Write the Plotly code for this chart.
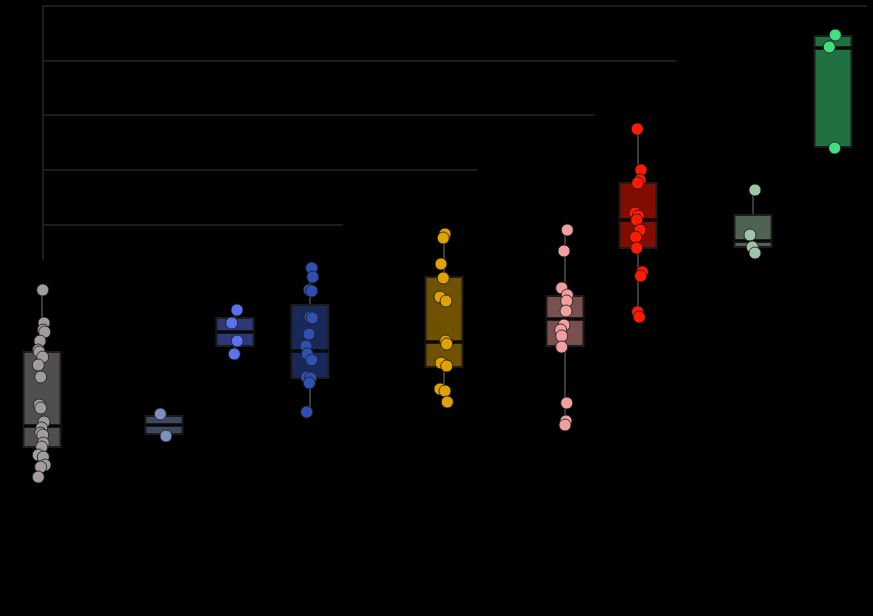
import plotly.graph_objects as go

# ---- data ----
groups = ["G1", "G2", "G3", "G4", "G5", "G6", "G7", "G8", "G9"]

g1 = [3.26, 2.93, 2.86, 2.84, 2.75, 2.66, 2.64, 2.59, 2.51, 2.39, 2.11, 2.08,
      1.94, 1.88, 1.83, 1.81, 1.73, 1.69, 1.61, 1.59, 1.51, 1.49, 1.39]
g2 = [2.02, 1.80]
g3 = [3.06, 2.93, 2.75, 2.62]
g4 = [3.48, 3.39, 3.26, 3.25, 2.99, 2.98, 2.82, 2.70, 2.62, 2.56, 2.39, 2.38, 2.33, 2.04]
g5 = [3.82, 3.78, 3.52, 3.38, 3.19, 3.15, 2.75, 2.72, 2.53, 2.50, 2.27, 2.25, 2.14]
g6 = [3.86, 3.65, 3.28, 3.21, 3.15, 3.05, 2.91, 2.86, 2.80, 2.69, 2.13, 1.95, 1.91]
g7 = [4.87, 4.46, 4.36, 4.33, 4.03, 4.00, 3.96, 3.86, 3.79, 3.68, 3.44, 3.40, 3.04, 2.99]
g8 = [4.26, 3.81, 3.69, 3.63]
g9 = [5.81, 5.69, 4.68]
values = [g1, g2, g3, g4, g5, g6, g7, g8, g9]

# box statistics
q1 = [1.69, 1.82, 2.70, 2.38, 2.49, 2.70, 3.68, 3.69, 4.69]
median = [1.90, 1.91, 2.84, 2.65, 2.74, 2.97, 3.96, 3.75, 5.68]
q3 = [2.64, 2.00, 2.98, 3.11, 3.39, 3.20, 4.33, 4.01, 5.80]
lower = [1.39, 1.80, 2.62, 2.04, 2.14, 1.91, 2.99, 3.63, 4.68]
upper = [3.26, 2.02, 3.06, 3.48, 3.82, 3.86, 4.87, 4.26, 5.81]

# significance brackets: y level and right end
bracket_y = [6.10, 5.55, 5.01, 4.46, 3.91]
bracket_end = [8.67, 6.77, 5.95, 4.77, 3.43]

# ---- layout / style ----
xpos = [0.42, 1.64, 2.35, 3.10, 4.44, 5.65, 6.38, 7.53, 8.33]
box_w = 0.37
jitter = [
    [0.007, 0.02, 0.013, 0.027, -0.02, -0.037, -0.027, 0.007, -0.037, -0.013, -0.027, -0.013,
     0.02, -0.003, -0.013, 0.007, 0.013, -0.003, -0.037, 0.013, 0.03, -0.013, -0.037],
    [-0.037, 0.02],
    [0.02, -0.033, 0.023, -0.007],
    [0.017, 0.027, -0.007, 0.017, 0.0, 0.023, -0.01, -0.04, -0.027, 0.017, -0.033, 0.007, -0.007, -0.033],
    [0.01, -0.007, -0.03, -0.007, -0.04, 0.02, 0.017, 0.027, -0.03, 0.027, -0.04, 0.01, 0.033],
    [0.023, -0.01, -0.033, 0.023, 0.017, 0.01, -0.01, -0.043, -0.033, -0.033, 0.017, 0.01, 0.0],
    [-0.007, 0.03, 0.02, -0.003, -0.03, 0.003, -0.013, 0.02, -0.023, -0.013, 0.043, 0.027, -0.003, 0.013],
    [0.02, -0.03, -0.007, 0.02],
    [0.023, -0.037, 0.017],
]
colors = ["#a09ca0", "#7f8fc0", "#5a72ee", "#2f4fb2", "#e0a200", "#f0a0a0",
          "#ff1a00", "#a0c4a8", "#40e082"]


def half(c):
    r, g, b = int(c[1:3], 16), int(c[3:5], 16), int(c[5:7], 16)
    return "rgba(%d,%d,%d,0.5)" % (r, g, b)


fig = go.Figure()

for i, name in enumerate(groups):
    fig.add_trace(go.Box(
        x=[xpos[i]], q1=[q1[i]], median=[median[i]], q3=[q3[i]],
        lowerfence=[lower[i]], upperfence=[upper[i]],
        width=box_w, fillcolor=half(colors[i]),
        line=dict(color="#1c1c1c", width=2), whiskerwidth=0,
        boxpoints=False, name=name, showlegend=False, hoverinfo="skip",
    ))
    # whiskers in a lighter grey than the box outline
    fig.add_trace(go.Scatter(
        x=[xpos[i], xpos[i], None, xpos[i], xpos[i]],
        y=[q3[i] + 0.01, upper[i], None, q1[i] - 0.01, lower[i]],
        mode="lines", line=dict(color="#3a3a3a", width=2),
        showlegend=False, hoverinfo="skip",
    ))
    fig.add_trace(go.Scatter(
        x=[xpos[i] - box_w / 2, xpos[i] + box_w / 2], y=[median[i], median[i]],
        mode="lines", line=dict(color="#080808", width=3.5),
        showlegend=False, hoverinfo="skip",
    ))

for i, name in enumerate(groups):
    fig.add_trace(go.Scatter(
        x=[xpos[i] + j for j in jitter[i]], y=values[i], mode="markers",
        marker=dict(size=12, color=colors[i],
                    line=dict(color="rgba(30,30,30,0.85)", width=1)),
        showlegend=False, name=name,
    ))

bracket_color = "#262626"
x0 = xpos[0] + 0.01
for yb, xe in zip(bracket_y, bracket_end):
    fig.add_shape(type="line", x0=x0, x1=xe, y0=yb, y1=yb,
                  line=dict(color=bracket_color, width=1.6))
fig.add_shape(type="line", x0=x0, x1=x0, y0=bracket_y[0], y1=bracket_y[-1] - 0.35,
              line=dict(color=bracket_color, width=1.6))

fig.update_layout(
    width=873, height=616,
    margin=dict(l=0, r=0, t=0, b=0),
    paper_bgcolor="black", plot_bgcolor="black",
    xaxis=dict(range=[0, 8.73], visible=False, fixedrange=True),
    yaxis=dict(range=[0, 6.16], visible=False, fixedrange=True),
    showlegend=False,
)

fig.write_html(
    "out.html",
    config={"displayModeBar": False},
    post_script="document.body.style.margin='0';document.body.style.background='black';",
)
